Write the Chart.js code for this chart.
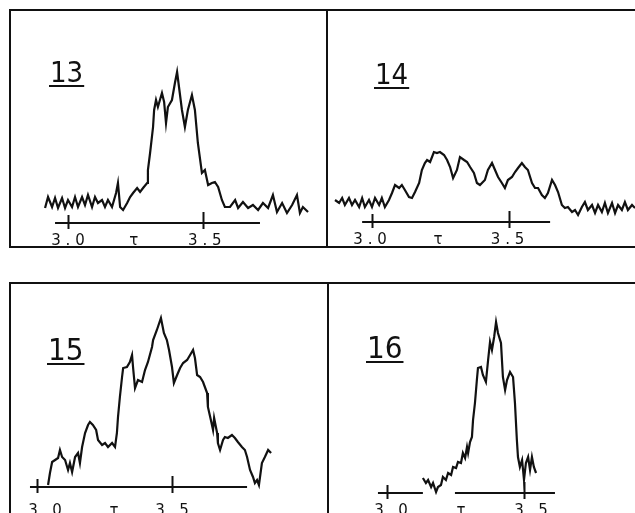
<!DOCTYPE html>
<html>
<head>
<meta charset="utf-8">
<title>Spectra 13-16</title>
<script src="https://cdn.jsdelivr.net/npm/chart.js@4.4.1/dist/chart.umd.min.js"></script>
<style>
  html, body { margin: 0; padding: 0; background: #fff; }
  #page { position: relative; width: 635px; height: 513px; overflow: hidden; }
  .frame { position: absolute; border: 2px solid #111; box-sizing: border-box; }
  .divider { position: absolute; width: 2px; background: #111; }
  canvas { position: absolute; }
</style>
</head>
<body>
<div id="page">
  <div class="frame" style="left:9px;top:9px;width:660px;height:239px;"></div>
  <div class="divider" style="left:326px;top:9px;height:239px;"></div>
  <div class="frame" style="left:9px;top:282px;width:660px;height:260px;"></div>
  <div class="divider" style="left:327px;top:282px;height:240px;"></div>
  <canvas id="c13"></canvas>
  <canvas id="c14"></canvas>
  <canvas id="c15"></canvas>
  <canvas id="c16"></canvas>
</div>
<script>
// ── Data (tau, relative intensity above the axis line) ───────────────────────
const PANEL_NAMES = ['13', '14', '15', '16'];
const TICK_VALUES = [3.0, 3.5];
const TICK_LABELS = ['3.0', '3.5'];
const AXIS_LABEL  = 'τ';

const TAU_13 = [2.915,2.926,2.941,2.952,2.963,2.978,2.989,3.000,3.015,3.026,3.037,3.052,3.063,3.074,3.089,3.100,
  3.111,3.126,3.137,3.148,3.163,3.178,3.185,3.193,3.204,3.219,3.230,3.241,3.256,3.267,3.278,3.293,3.296,3.304,
  3.315,3.319,3.326,3.333,3.348,3.356,3.363,3.370,3.385,3.396,3.404,3.422,3.433,3.444,3.459,3.470,3.481,3.496,
  3.507,3.519,3.533,3.544,3.556,3.570,3.581,3.600,3.619,3.630,3.648,3.667,3.685,3.704,3.722,3.741,3.759,3.774,
  3.793,3.811,3.830,3.848,3.859,3.870,3.889];
const INT_13 = [0.15,0.26,0.16,0.25,0.15,0.25,0.15,0.23,0.16,0.26,0.16,0.26,0.18,0.28,0.16,0.26,
  0.20,0.23,0.16,0.23,0.16,0.30,0.40,0.16,0.13,0.20,0.26,0.30,0.35,0.31,0.35,0.40,0.53,0.70,
  0.96,1.13,1.23,1.16,1.30,1.21,1.00,1.16,1.23,1.40,1.51,1.13,0.96,1.13,1.28,1.13,0.80,0.50,
  0.53,0.38,0.40,0.41,0.36,0.23,0.16,0.16,0.23,0.15,0.21,0.15,0.18,0.13,0.20,0.15,0.28,0.11,
  0.20,0.10,0.18,0.28,0.10,0.16,0.11];

const TAU_14 = [2.865,2.880,2.891,2.901,2.916,2.927,2.938,2.953,2.964,2.974,2.989,3.000,3.011,3.026,3.036,3.047,
  3.062,3.073,3.084,3.099,3.109,3.120,3.135,3.146,3.157,3.172,3.182,3.193,3.201,3.212,3.226,3.237,3.248,3.263,
  3.274,3.285,3.296,3.310,3.321,3.336,3.347,3.358,3.372,3.383,3.394,3.412,3.423,3.438,3.449,3.460,3.474,3.485,
  3.496,3.511,3.522,3.533,3.547,3.558,3.569,3.584,3.595,3.606,3.620,3.631,3.642,3.657,3.668,3.679,3.693,3.704,
  3.715,3.730,3.741,3.752,3.766,3.777,3.788,3.803,3.814,3.825,3.839,3.850,3.861,3.876,3.887,3.898,3.912,3.923,
  3.934,3.949,3.960];
const INT_14 = [0.22,0.19,0.24,0.17,0.24,0.17,0.22,0.15,0.24,0.15,0.22,0.15,0.24,0.17,0.24,0.15,
  0.22,0.29,0.37,0.34,0.37,0.32,0.25,0.24,0.30,0.39,0.52,0.59,0.62,0.60,0.70,0.69,0.70,0.67,
  0.62,0.55,0.44,0.52,0.65,0.62,0.60,0.55,0.49,0.39,0.37,0.42,0.52,0.59,0.52,0.45,0.39,0.34,
  0.42,0.45,0.50,0.54,0.59,0.55,0.52,0.39,0.34,0.34,0.27,0.24,0.29,0.42,0.37,0.30,0.17,0.14,
  0.15,0.10,0.12,0.07,0.15,0.20,0.12,0.17,0.09,0.17,0.10,0.19,0.09,0.19,0.09,0.17,0.12,0.20,
  0.12,0.17,0.14];

const TAU_15 = [3.041,3.048,3.056,3.067,3.078,3.085,3.093,3.104,3.115,3.122,3.130,3.141,3.152,3.159,3.167,3.178,
  3.189,3.196,3.207,3.219,3.226,3.241,3.252,3.263,3.278,3.289,3.296,3.300,3.307,3.315,3.319,3.333,3.344,3.352,
  3.356,3.363,3.374,3.389,3.400,3.411,3.426,3.430,3.444,3.459,3.470,3.481,3.489,3.500,3.507,3.519,3.530,3.541,
  3.556,3.567,3.578,3.585,3.593,3.604,3.615,3.630,3.633,3.644,3.652,3.656,3.667,3.670,3.678,3.689,3.696,3.707,
  3.722,3.733,3.744,3.759,3.770,3.778,3.789,3.800,3.807,3.815,3.822,3.833,3.844,3.856,3.867];
const INT_15 = [0.02,0.14,0.25,0.27,0.29,0.37,0.30,0.27,0.17,0.24,0.15,0.30,0.34,0.24,0.40,0.54,
  0.62,0.65,0.62,0.57,0.47,0.42,0.44,0.40,0.44,0.40,0.54,0.70,0.90,1.10,1.19,1.20,1.25,1.32,
  1.19,0.99,1.07,1.05,1.17,1.25,1.40,1.47,1.57,1.69,1.54,1.47,1.37,1.20,1.04,1.12,1.19,1.24,
  1.27,1.32,1.37,1.29,1.12,1.10,1.05,0.94,0.80,0.67,0.57,0.69,0.54,0.44,0.37,0.47,0.50,0.49,
  0.52,0.49,0.45,0.40,0.37,0.30,0.17,0.10,0.04,0.07,0.02,0.24,0.30,0.37,0.34];

const TAU_16 = [3.131,3.142,3.150,3.161,3.168,3.179,3.186,3.197,3.204,3.215,3.223,3.234,3.241,3.252,3.259,3.270,
  3.277,3.285,3.292,3.296,3.303,3.310,3.314,3.321,3.328,3.332,3.343,3.350,3.361,3.369,3.376,3.383,3.391,3.398,
  3.405,3.416,3.423,3.431,3.438,3.449,3.460,3.467,3.474,3.478,3.485,3.493,3.500,3.507,3.515,3.522,3.529,3.536,
  3.544];
const INT_16 = [0.15,0.10,0.13,0.06,0.10,0.01,0.06,0.08,0.16,0.13,0.20,0.18,0.26,0.25,0.31,0.30,
  0.40,0.35,0.46,0.40,0.51,0.56,0.73,0.90,1.13,1.25,1.26,1.18,1.11,1.33,1.51,1.43,1.56,1.71,
  1.60,1.50,1.16,1.03,1.13,1.21,1.16,0.90,0.53,0.36,0.26,0.33,0.13,0.30,0.36,0.23,0.36,0.26,
  0.20];

// ── Layout (page pixels) ─────────────────────────────────────────────────────
const INK = '#111';
const PANELS = [
  { tau: TAU_13, val: INT_13, box: [11, 11, 315, 235], x30: 68,  x35: 203, axisY: 223,
    axisRuns: [[2.952, 3.711]], labelAt: [3.0, 3.244, 3.507], labelY: 245, nameX: 50,  nameY: 82, nameSize: 29 },
  { tau: TAU_14, val: INT_14, box: [328, 11, 307, 235], x30: 372, x35: 509, axisY: 222,
    axisRuns: [[2.964, 3.650]], labelAt: [2.993, 3.241, 3.495], labelY: 244, nameX: 375, nameY: 84, nameSize: 29 },
  { tau: TAU_15, val: INT_15, box: [11, 284, 316, 229], x30: 37,  x35: 172, axisY: 487,
    axisRuns: [[2.974, 3.778]], labelAt: [3.030, 3.285, 3.500], labelY: 515, nameX: 48,  nameY: 360, nameSize: 31 },
  { tau: TAU_16, val: INT_16, box: [329, 284, 306, 229], x30: 387, x35: 524, axisY: 493,
    axisRuns: [[2.967, 3.131], [3.248, 3.613]], labelAt: [3.015, 3.270, 3.526], labelY: 515, nameX: 367, nameY: 358, nameSize: 31 },
];
const PX_PER_UNIT = 100;   // intensity scale, identical in every panel

// draw a short string with wide, lettering-guide style spacing
function drawSpaced(ctx, s, cx, y, gap) {
  const chars = [...s];
  chars.forEach((ch, j) => ctx.fillText(ch, cx + (j - (chars.length - 1) / 2) * gap, y));
}

const tauAxis = {
  id: 'tauAxis',
  afterDatasetsDraw(chart, args, opts) {
    const { ctx, scales: { x, y } } = chart;
    const p = opts.panel;
    const y0 = y.getPixelForValue(0);
    ctx.save();
    ctx.strokeStyle = INK;
    ctx.fillStyle = INK;
    ctx.lineWidth = 2;
    ctx.lineCap = 'butt';
    p.axisRuns.forEach(([a, b]) => {
      ctx.beginPath();
      ctx.moveTo(x.getPixelForValue(a), y0);
      ctx.lineTo(x.getPixelForValue(b), y0);
      ctx.stroke();
    });
    TICK_VALUES.forEach((t, i) => {
      const px = Math.round(x.getPixelForValue(t)) + 0.5;
      ctx.beginPath();
      ctx.moveTo(px, y0 - (i ? 11 : 8));
      ctx.lineTo(px, y0 + 6);
      ctx.stroke();
    });
    // tick labels and axis symbol
    ctx.font = '15px "DejaVu Sans"';
    ctx.textAlign = 'center';
    ctx.textBaseline = 'alphabetic';
    const ly = p.labelY - p.box[1];
    [TICK_LABELS[0], AXIS_LABEL, TICK_LABELS[1]].forEach((s, i) =>
      drawSpaced(ctx, s, x.getPixelForValue(p.labelAt[i]), ly, 12));
    // underlined panel number
    ctx.font = p.nameSize + 'px "Liberation Sans Narrow", "DejaVu Sans Condensed", sans-serif';
    ctx.textAlign = 'left';
    const nx = p.nameX - p.box[0], ny = p.nameY - p.box[1];
    ctx.fillText(opts.name, nx, ny);
    const w = ctx.measureText(opts.name).width;
    ctx.lineWidth = 2.2;
    ctx.beginPath();
    ctx.moveTo(nx - 1, ny + 4);
    ctx.lineTo(nx + w + 1, ny + 4);
    ctx.stroke();
    ctx.restore();
  }
};

Chart.register(tauAxis);

PANELS.forEach((p, i) => {
  const [left, top, w, h] = p.box;
  const cv = document.getElementById('c' + PANEL_NAMES[i]);
  cv.style.left = left + 'px';
  cv.style.top = top + 'px';
  cv.width = w;
  cv.height = h;
  const k = (p.x35 - p.x30) / (TICK_VALUES[1] - TICK_VALUES[0]);   // px per tau
  const xMin = TICK_VALUES[0] - (p.x30 - left) / k;
  const yMax = (p.axisY - top) / PX_PER_UNIT;
  new Chart(cv, {
    type: 'line',
    data: {
      datasets: [{
        data: p.tau.map((t, j) => ({ x: t, y: p.val[j] })),
        borderColor: INK,
        borderWidth: 2.2,
        pointRadius: 0,
        tension: 0,
        fill: false,
      }]
    },
    options: {
      responsive: false,
      animation: false,
      layout: { padding: 0 },
      scales: {
        x: { type: 'linear', display: false, min: xMin, max: xMin + w / k },
        y: { type: 'linear', display: false, min: yMax - h / PX_PER_UNIT, max: yMax },
      },
      plugins: {
        legend: { display: false },
        tooltip: { enabled: false },
        tauAxis: { panel: p, name: PANEL_NAMES[i] },
      },
    },
  });
});
</script>
</body>
</html>
